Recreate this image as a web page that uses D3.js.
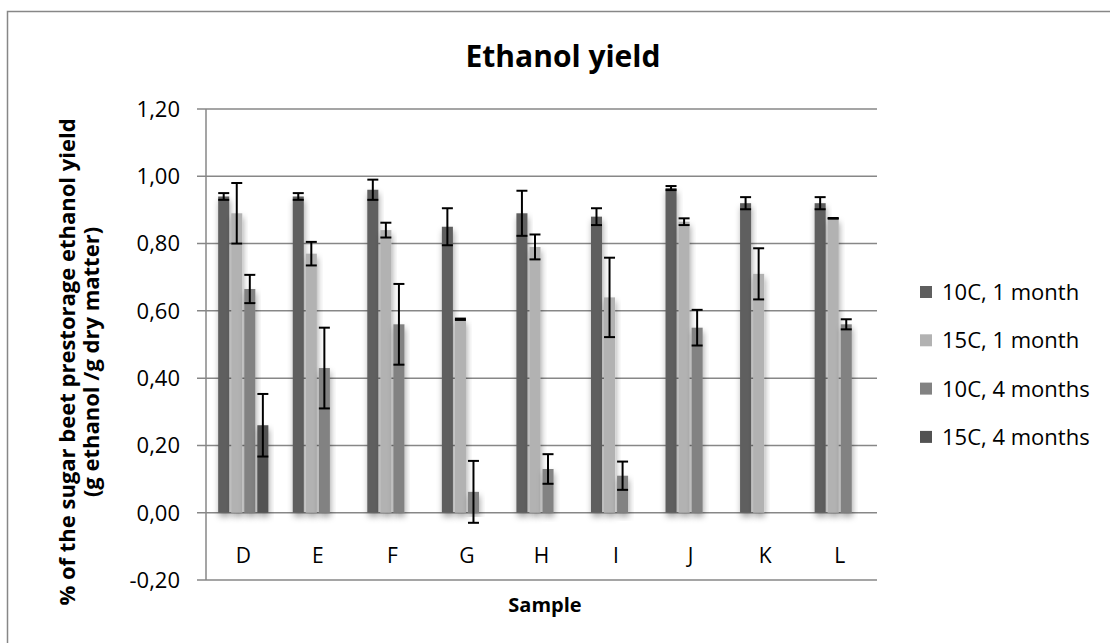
<!DOCTYPE html>
<html>
<head>
<meta charset="utf-8">
<script src="https://cdn.jsdelivr.net/npm/d3@7"></script>
<style>
  body { margin: 0; background: #fff; }
  svg { display: block; font-family: "Open Sans", sans-serif; }
</style>
</head>
<body>
<svg id="chart" width="1110" height="643"></svg>
<script>
// data
var samples = ["D", "E", "F", "G", "H", "I", "J", "K", "L"];
var seriesNames = ["10C, 1 month", "15C, 1 month", "10C, 4 months", "15C, 4 months"];
var seriesColors = ["#5f5f5f", "#b2b2b2", "#828282", "#525252"];

var m10c1 = [0.94, 0.94, 0.96, 0.85, 0.89, 0.88, 0.965, 0.92, 0.92];
var e10c1 = [0.01, 0.01, 0.03, 0.055, 0.067, 0.025, 0.006, 0.018, 0.018];
var m15c1 = [0.89, 0.77, 0.84, 0.575, 0.79, 0.64, 0.865, 0.71, 0.875];
var e15c1 = [0.09, 0.035, 0.022, 0.002, 0.037, 0.118, 0.01, 0.076, 0.001];
var m10c4 = [0.665, 0.43, 0.56, 0.062, 0.13, 0.11, 0.55, null, 0.56];
var e10c4 = [0.042, 0.12, 0.12, 0.092, 0.044, 0.042, 0.053, null, 0.015];
var m15c4 = [0.26, null, null, null, null, null, null, null, null];
var e15c4 = [0.093, null, null, null, null, null, null, null, null];

var yTicks = [-0.2, 0, 0.2, 0.4, 0.6, 0.8, 1.0, 1.2];

var means = [m10c1, m15c1, m10c4, m15c4];
var errs = [e10c1, e15c1, e10c4, e15c4];

var svg = d3.select("#chart");

// outer chart frame (right and bottom edges fall outside the picture)
svg.append("rect")
    .attr("x", 7.5).attr("y", 11.5)
    .attr("width", 1200).attr("height", 700)
    .attr("fill", "#fff")
    .attr("stroke", "#878787")
    .attr("stroke-width", 1.5);

var defs = svg.append("defs");
var f = defs.append("filter").attr("id", "shadow")
    .attr("x", "-50%").attr("y", "-10%").attr("width", "200%").attr("height", "130%");
f.append("feDropShadow")
    .attr("dx", 1).attr("dy", 4)
    .attr("stdDeviation", 3)
    .attr("flood-color", "#000")
    .attr("flood-opacity", 0.35);

var plotLeft = 206, plotRight = 877, plotTop = 109, plotBottom = 580;

var x = d3.scaleBand()
    .domain(samples)
    .range([plotLeft, plotRight]);

var bw = x.bandwidth();
var groupW = bw * 0.70;
var xs = d3.scaleBand()
    .domain(d3.range(seriesNames.length))
    .range([(bw - groupW) / 2, (bw + groupW) / 2]);

var y = d3.scaleLinear()
    .domain([-0.2, 1.2])
    .range([plotBottom, plotTop]);

// gridlines + tick marks
svg.append("g")
  .selectAll("line")
    .data(yTicks)
  .enter().append("line")
    .attr("x1", plotLeft - 9)
    .attr("x2", plotRight)
    .attr("y1", function(d) { return y(d); })
    .attr("y2", function(d) { return y(d); })
    .attr("stroke", "#878787")
    .attr("stroke-width", 1.5);

// y axis line
svg.append("line")
    .attr("x1", plotLeft).attr("x2", plotLeft)
    .attr("y1", plotTop).attr("y2", plotBottom)
    .attr("stroke", "#878787")
    .attr("stroke-width", 1.5);

// tick labels (comma decimals, plain hyphen for minus)
svg.append("g")
  .selectAll("text")
    .data(yTicks)
  .enter().append("text")
    .attr("x", 180)
    .attr("y", function(d) { return y(d); })
    .attr("dy", "0.36em")
    .attr("text-anchor", "end")
    .attr("font-size", 22)
    .attr("fill", "#000")
    .text(function(d) { return d3.format(".2f")(d).replace(".", ",").replace("\u2212", "-"); });

// bars
var bars = [];
means.forEach(function(arr, s) {
  arr.forEach(function(v, i) {
    if (v !== null) bars.push({ s: s, cat: samples[i], v: v, e: errs[s][i] });
  });
});

var barG = svg.append("g");
barG.selectAll("rect")
    .data(bars)
  .enter().append("rect")
    .attr("x", function(d) { return x(d.cat) + xs(d.s) + 1; })
    .attr("y", function(d) { return y(Math.max(d.v, 0)); })
    .attr("width", xs.bandwidth() - 2)
    .attr("height", function(d) { return Math.abs(y(d.v) - y(0)); })
    .attr("fill", function(d) { return seriesColors[d.s]; })
    .attr("filter", "url(#shadow)");

// error bars
var errG = svg.append("g")
    .attr("stroke", "#000")
    .attr("stroke-width", 2)
  .selectAll("g")
    .data(bars)
  .enter().append("g")
    .attr("transform", function(d) { return "translate(" + (x(d.cat) + xs(d.s) + xs.bandwidth() / 2) + ",0)"; });

errG.append("line")
    .attr("y1", function(d) { return y(d.v + d.e); })
    .attr("y2", function(d) { return y(d.v - d.e); });
errG.append("line")
    .attr("x1", -5.5).attr("x2", 5.5)
    .attr("y1", function(d) { return y(d.v + d.e); })
    .attr("y2", function(d) { return y(d.v + d.e); });
errG.append("line")
    .attr("x1", -5.5).attr("x2", 5.5)
    .attr("y1", function(d) { return y(d.v - d.e); })
    .attr("y2", function(d) { return y(d.v - d.e); });

// category labels
svg.append("g")
  .selectAll("text")
    .data(samples)
  .enter().append("text")
    .attr("x", function(d) { return x(d) + bw / 2; })
    .attr("y", 563)
    .attr("text-anchor", "middle")
    .attr("font-size", 21)
    .text(function(d) { return d; });

// titles
svg.append("text")
    .attr("x", 563).attr("y", 67)
    .attr("text-anchor", "middle")
    .attr("font-size", 30)
    .attr("font-weight", "bold")
    .text("Ethanol yield");

svg.append("text")
    .attr("x", 545).attr("y", 612)
    .attr("text-anchor", "middle")
    .attr("font-size", 20)
    .attr("font-weight", "bold")
    .text("Sample");

var yTitle = svg.append("text")
    .attr("transform", "translate(75,362) rotate(-90)")
    .attr("text-anchor", "middle")
    .attr("font-size", 22)
    .attr("font-weight", "bold");
yTitle.append("tspan").attr("x", 0).attr("y", 0)
    .text("% of the sugar beet prestorage ethanol yield");
yTitle.append("tspan").attr("x", 0).attr("y", 24)
    .text("(g ethanol /g dry matter)");

// legend
var legend = svg.append("g")
  .selectAll("g")
    .data(seriesNames)
  .enter().append("g")
    .attr("transform", function(d, i) { return "translate(920," + (292 + i * 48.3) + ")"; });

legend.append("rect")
    .attr("x", 0).attr("y", -6)
    .attr("width", 12).attr("height", 12)
    .attr("fill", function(d, i) { return seriesColors[i]; });

legend.append("text")
    .attr("x", 22)
    .attr("dy", "0.36em")
    .attr("font-size", 22)
    .text(function(d) { return d; });
</script>
</body>
</html>
